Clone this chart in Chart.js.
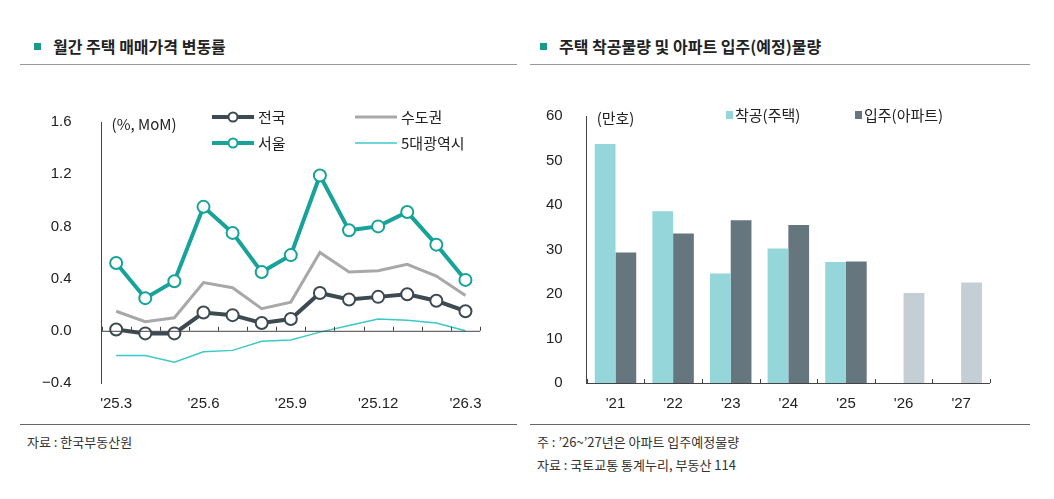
<!DOCTYPE html>
<html><head><meta charset="utf-8">
<script src="https://cdn.jsdelivr.net/npm/chart.js@4.4.1/dist/chart.umd.min.js"></script>
<style>
body{margin:0;background:#fff;font-family:"Noto Sans CJK KR","Noto Sans",sans-serif;color:#222;}
.title{position:absolute;top:34px;font-size:16px;font-weight:bold;}
.title:before{content:"";display:inline-block;width:7px;height:7px;background:#1a9b8a;margin:0 12px 3px 6px;}
.rule{position:absolute;top:64px;height:1px;background:#999;}
.note{position:absolute;font-size:13px;color:#333;}
.box{position:absolute;}
</style></head><body>
<div class="title" style="left:28px">월간 주택 매매가격 변동률</div>
<div class="rule" style="left:20px;width:497px"></div>
<div class="title" style="left:534px">주택 착공물량 및 아파트 입주(예정)물량</div>
<div class="rule" style="left:530px;width:500px"></div>
<div class="rule" style="left:20px;width:497px;top:424px;background:#666"></div>
<div class="rule" style="left:530px;width:500px;top:424px;background:#666"></div>
<div class="note" style="left:27px;top:432px">자료 : 한국부동산원</div>
<div class="note" style="left:537px;top:432px">주 : ’26~’27년은 아파트 입주예정물량</div>
<div class="note" style="left:537px;top:455px">자료 : 국토교통 통계누리, 부동산 114</div>
<div class="box" style="left:20px;top:91px;width:480px;height:326px"><canvas id="c1"></canvas></div>
<div class="box" style="left:530px;top:91px;width:480px;height:326px"><canvas id="c2"></canvas></div>
<script>
const months = ["'25.3","'25.4","'25.5","'25.6","'25.7","'25.8","'25.9","'25.10","'25.11","'25.12","'26.1","'26.2","'26.3"];
const nation = [0.01,-0.02,-0.02,0.14,0.12,0.06,0.09,0.29,0.24,0.26,0.28,0.23,0.15];
const capital = [0.15,0.07,0.10,0.37,0.33,0.17,0.22,0.60,0.45,0.46,0.51,0.42,0.27];
const seoul = [0.52,0.25,0.38,0.95,0.75,0.45,0.58,1.19,0.77,0.80,0.91,0.66,0.39];
const metro5 = [-0.19,-0.19,-0.24,-0.16,-0.15,-0.08,-0.07,-0.01,0.04,0.09,0.08,0.06,0.00];

const years = ["'21","'22","'23","'24","'25","'26","'27"];
const starts = [53.7,38.6,24.6,30.2,27.2,null,null];
const moveIn = [29.3,33.6,36.6,35.5,27.3,20.2,22.6];
const forecastFrom = 5;

const font = {family:"Liberation Sans, Arial, sans-serif", size:15};

// small ticks on the zero line / base line between categories
const zeroTicks = {
  id:'zeroTicks',
  afterDraw(chart){
    const x = chart.scales.x, y = chart.scales.y, ctx = chart.ctx;
    const py = y.getPixelForValue(0);
    ctx.save(); ctx.strokeStyle='#444'; ctx.lineWidth=1;
    ctx.beginPath(); ctx.moveTo(x.left, py+0.5); ctx.lineTo(x.right, py+0.5);
    const n = chart.data.labels.length;
    for(let i=0;i<=n;i++){
      const px = i===n ? x.right : (i===0 ? x.left : (x.getPixelForValue(i-1)+x.getPixelForValue(i))/2);
      ctx.moveTo(Math.round(px)+0.5, py); ctx.lineTo(Math.round(px)+0.5, py-4);
    }
    ctx.stroke(); ctx.restore();
  }
};
const unitLabel = (txt) => ({
  id:'unit',
  afterDraw(chart){
    const ctx=chart.ctx, y=chart.scales.y;
    ctx.save(); ctx.font='15px "Noto Sans CJK KR"'; ctx.fillStyle='#222';
    ctx.textBaseline='middle'; ctx.fillText(txt, y.right+10, y.top+2); ctx.restore();
  }
});

new Chart(document.getElementById('c1'), {
  type:'line',
  data:{labels:months, datasets:[
    {label:'전국', data:nation, borderColor:'#3d4a52', borderWidth:4, pointRadius:6, pointBackgroundColor:'#fff', pointBorderColor:'#3d4a52', pointBorderWidth:2, order:1},
    {label:'수도권', data:capital, borderColor:'#a8a8a8', borderWidth:3, pointRadius:0, order:3},
    {label:'서울', data:seoul, borderColor:'#17a39a', borderWidth:4, pointRadius:6, pointBackgroundColor:'#fff', pointBorderColor:'#17a39a', pointBorderWidth:2, order:0},
    {label:'5대광역시', data:metro5, borderColor:'#3cc8c8', borderWidth:1.5, pointRadius:0, order:4}
  ]},
  options:{responsive:true, maintainAspectRatio:false, animation:false,
    layout:{padding:{right:20}},
    plugins:{legend:{display:false}, tooltip:{enabled:false}},
    scales:{
      x:{offset:true, grid:{display:false}, border:{display:false},
        ticks:{font, color:'#222', maxRotation:0, autoSkip:false, padding:4,
          callback:(v,i)=> i%3===0 ? months[i] : ''}},
      y:{min:-0.4, max:1.6, grid:{display:false}, border:{color:'#444'},
        ticks:{stepSize:0.4, font, color:'#222', padding:22,
          callback:v=> (v<0?'−':'')+Math.abs(v).toFixed(1)}}
    }},
  plugins:[zeroTicks, unitLabel('(%, MoM)'), {
    id:'leg1', afterDraw(chart){
      const ctx=chart.ctx, ds=chart.data.datasets;
      const spots=[[192,26],[335,26],[192,52],[335,52]];
      ds.forEach((d,i)=>{
        const [lx,ly]=spots[i];
        ctx.save(); ctx.strokeStyle=d.borderColor; ctx.lineWidth=d.borderWidth;
        ctx.beginPath(); ctx.moveTo(lx,ly); ctx.lineTo(lx+42,ly); ctx.stroke();
        if(d.pointRadius){ctx.fillStyle='#fff'; ctx.lineWidth=2; ctx.beginPath(); ctx.arc(lx+21,ly,4.5,0,7); ctx.fill(); ctx.stroke();}
        ctx.fillStyle='#222'; ctx.font='15px "Noto Sans CJK KR"'; ctx.textBaseline='middle';
        ctx.fillText(d.label, lx+46, ly); ctx.restore();
      });
    }}]
});

new Chart(document.getElementById('c2'), {
  type:'bar',
  data:{labels:years, datasets:[
    {label:'착공(주택)', data:starts, backgroundColor:'#94d6da'},
    {label:'입주(아파트)', data:moveIn, backgroundColor:moveIn.map((v,i)=> i>=forecastFrom ? '#c4ced5' : '#66767f')}
  ]},
  options:{responsive:true, maintainAspectRatio:false, animation:false,
    layout:{padding:{right:20}},
    datasets:{bar:{categoryPercentage:0.72, barPercentage:1}},
    plugins:{legend:{display:false}, tooltip:{enabled:false}},
    scales:{
      x:{grid:{display:false}, border:{display:false}, ticks:{font, color:'#222', padding:4}},
      y:{min:0, max:60, grid:{display:false}, border:{color:'#444'},
        ticks:{stepSize:10, font, color:'#222', padding:16}}
    }},
  plugins:[zeroTicks, unitLabel('(만호)'), {
    id:'leg2', afterDraw(chart){
      const ctx=chart.ctx;
      [['착공(주택)','#94d6da',196],['입주(아파트)','#66767f',325]].forEach(([t,c,lx])=>{
        ctx.save(); ctx.fillStyle=c; ctx.fillRect(lx,20,7,8);
        ctx.fillStyle='#222'; ctx.font='15px "Noto Sans CJK KR"'; ctx.textBaseline='middle';
        ctx.fillText(t, lx+9, 24); ctx.restore();
      });
    }}]
});
</script>
</body></html>
